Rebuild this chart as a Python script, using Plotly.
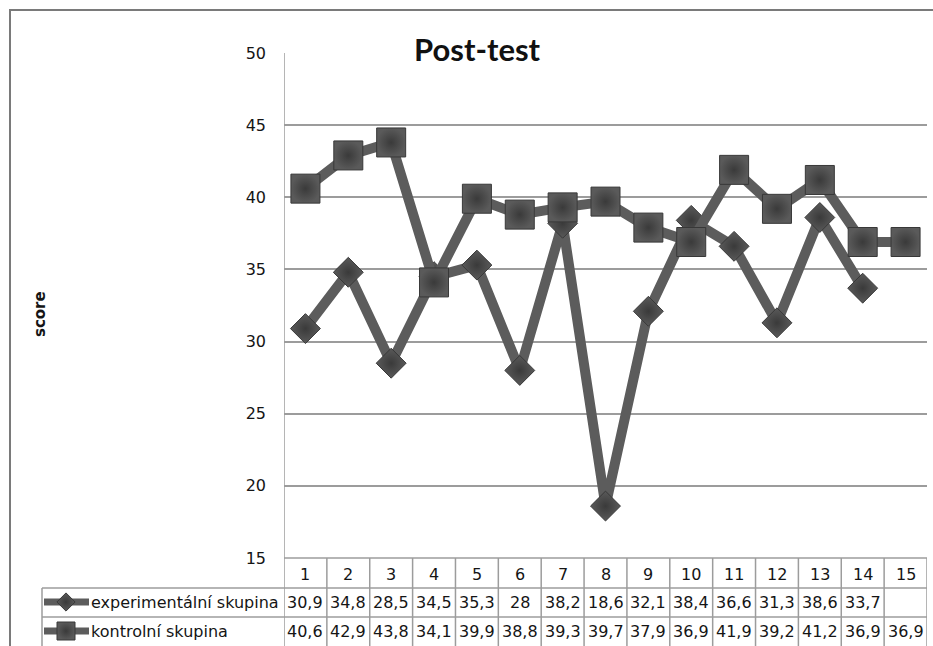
import plotly.graph_objects as go

# Post-test scores per participant, two groups
categories = list(range(1, 16))
experimental = [30.9, 34.8, 28.5, 34.5, 35.3, 28, 38.2, 18.6, 32.1, 38.4, 36.6, 31.3, 38.6, 33.7, None]
control = [40.6, 42.9, 43.8, 34.1, 39.9, 38.8, 39.3, 39.7, 37.9, 36.9, 41.9, 39.2, 41.2, 36.9, 36.9]
series_names = ["experimentální skupina", "kontrolní skupina"]
y_ticks = [15, 20, 25, 30, 35, 40, 45, 50]
title_text = "Post-test"
y_title = "score"

W, H = 933, 646
FONT = "DejaVu Sans"
TITLE_FONT = "Lato"
TXT = "#151515"
GRID = "#9c9c9c"
LINE_C = "#5c5c5c"


def px(x):
    return x / W


def py(y):
    return 1 - y / H


def fmt(v):
    return "" if v is None else f"{v:g}".replace(".", ",")


plot_x0, plot_x1 = 284, 927
plot_y0, plot_y1 = 53, 558
row_hdr, row1, row2 = 574, 602, 631

fig = go.Figure()

marker_common = dict(color="#5a5a5a", line=dict(color="#383838", width=1),
                     gradient=dict(type="radial", color="#3a3a3a"))

fig.add_trace(go.Scatter(
    x=categories, y=experimental, name=series_names[0], mode="lines+markers",
    line=dict(color=LINE_C, width=10),
    marker=dict(symbol="diamond", size=23, **marker_common),
    connectgaps=False, showlegend=False,
))
fig.add_trace(go.Scatter(
    x=categories, y=control, name=series_names[1], mode="lines+markers",
    line=dict(color=LINE_C, width=10),
    marker=dict(symbol="square", size=29, **marker_common),
    showlegend=False,
))

# legend keys inside the data-table row headers (pixel-space overlay axes)
for name, sym, size, yrow in [(series_names[0], "diamond", 14, row1),
                              (series_names[1], "square", 18, row2)]:
    fig.add_trace(go.Scatter(
        x=[44, 66, 89], y=[yrow, yrow, yrow], mode="lines",
        line=dict(color=LINE_C, width=7), xaxis="x2", yaxis="y2",
        showlegend=False, hoverinfo="skip",
    ))
    fig.add_trace(go.Scatter(
        x=[66], y=[yrow], mode="markers", xaxis="x2", yaxis="y2",
        marker=dict(symbol=sym, size=size, **marker_common),
        showlegend=False, hoverinfo="skip",
    ))

annotations = []
tfont = dict(size=16, color=TXT, family=FONT)
# category header row
for c in categories:
    annotations.append(dict(x=c, xref="x", y=py(row_hdr), yref="paper", text=str(c),
                            xanchor="center", yanchor="middle", showarrow=False, font=tfont))
# value rows
for series, yrow in [(experimental, row1), (control, row2)]:
    for c, v in zip(categories, series):
        annotations.append(dict(x=c, xref="x", y=py(yrow), yref="paper", text=fmt(v),
                                xanchor="center", yanchor="middle", showarrow=False, font=tfont))
# row labels
for name, yrow in [(series_names[0], row1), (series_names[1], row2)]:
    annotations.append(dict(x=px(89), xref="paper", y=py(yrow), yref="paper", text=name,
                            xanchor="left", yanchor="middle", showarrow=False, font=tfont))
# title and axis title
annotations.append(dict(x=px(478), xref="paper", y=py(49), yref="paper", text="<b>" + title_text + "</b>",
                        xanchor="center", yanchor="middle", showarrow=False,
                        font=dict(size=31, color="#111111", family=TITLE_FONT)))
annotations.append(dict(x=px(40), xref="paper", y=py(314), yref="paper", text="<b>" + y_title + "</b>",
                        xanchor="center", yanchor="middle", showarrow=False, textangle=-90,
                        font=dict(size=15, color=TXT, family=FONT)))

shapes = []
gl = dict(color=GRID, width=1.5)
# category column boundaries through the table
for c in categories:
    shapes.append(dict(type="line", xref="x", x0=c + 0.5, x1=c + 0.5, yref="paper",
                       y0=py(plot_y1), y1=-0.02, line=gl))
# left edge of plot / table
shapes.append(dict(type="line", xref="x", x0=0.5, x1=0.5, yref="paper", y0=py(plot_y0), y1=-0.02, line=gl))
# bottom of plot area (top of table header)
shapes.append(dict(type="line", xref="x", x0=0.5, x1=15.5, yref="paper",
                   y0=py(plot_y1), y1=py(plot_y1), line=gl))
# table row separators
for yy in [588, 617]:
    shapes.append(dict(type="line", xref="paper", x0=px(42), x1=px(plot_x1), yref="paper",
                       y0=py(yy), y1=py(yy), line=gl))
shapes.append(dict(type="line", xref="paper", x0=px(42), x1=px(42), yref="paper",
                   y0=py(588), y1=-0.02, line=gl))
# chart border
shapes.append(dict(type="rect", xref="paper", x0=px(10), x1=1.05, yref="paper", y0=py(10), y1=-0.05,
                   line=dict(color="#7a7a7a", width=2)))

fig.update_layout(
    template="none",
    width=W, height=H, margin=dict(l=0, r=0, t=0, b=0, pad=0, autoexpand=False),
    paper_bgcolor="white", plot_bgcolor="rgba(0,0,0,0)",
    xaxis=dict(domain=[px(plot_x0), px(plot_x1)], range=[0.5, 15.5], showgrid=False,
               showticklabels=False, zeroline=False, showline=False, ticks="", automargin=False),
    yaxis=dict(domain=[py(plot_y1), py(plot_y0)], range=[15, 50], tickvals=y_ticks,
               showgrid=True, gridcolor=GRID, gridwidth=1.5, zeroline=False, showline=False,
               ticks="", ticklabelstandoff=17, automargin=False,
               tickfont=dict(size=16, color=TXT, family=FONT)),
    xaxis2=dict(domain=[0, 1], range=[0, W], visible=False, anchor="y2", automargin=False),
    yaxis2=dict(domain=[0, 1], range=[H, 0], visible=False, anchor="x2", automargin=False),
    annotations=annotations, shapes=shapes, showlegend=False,
)

fig.write_html("out.html")
